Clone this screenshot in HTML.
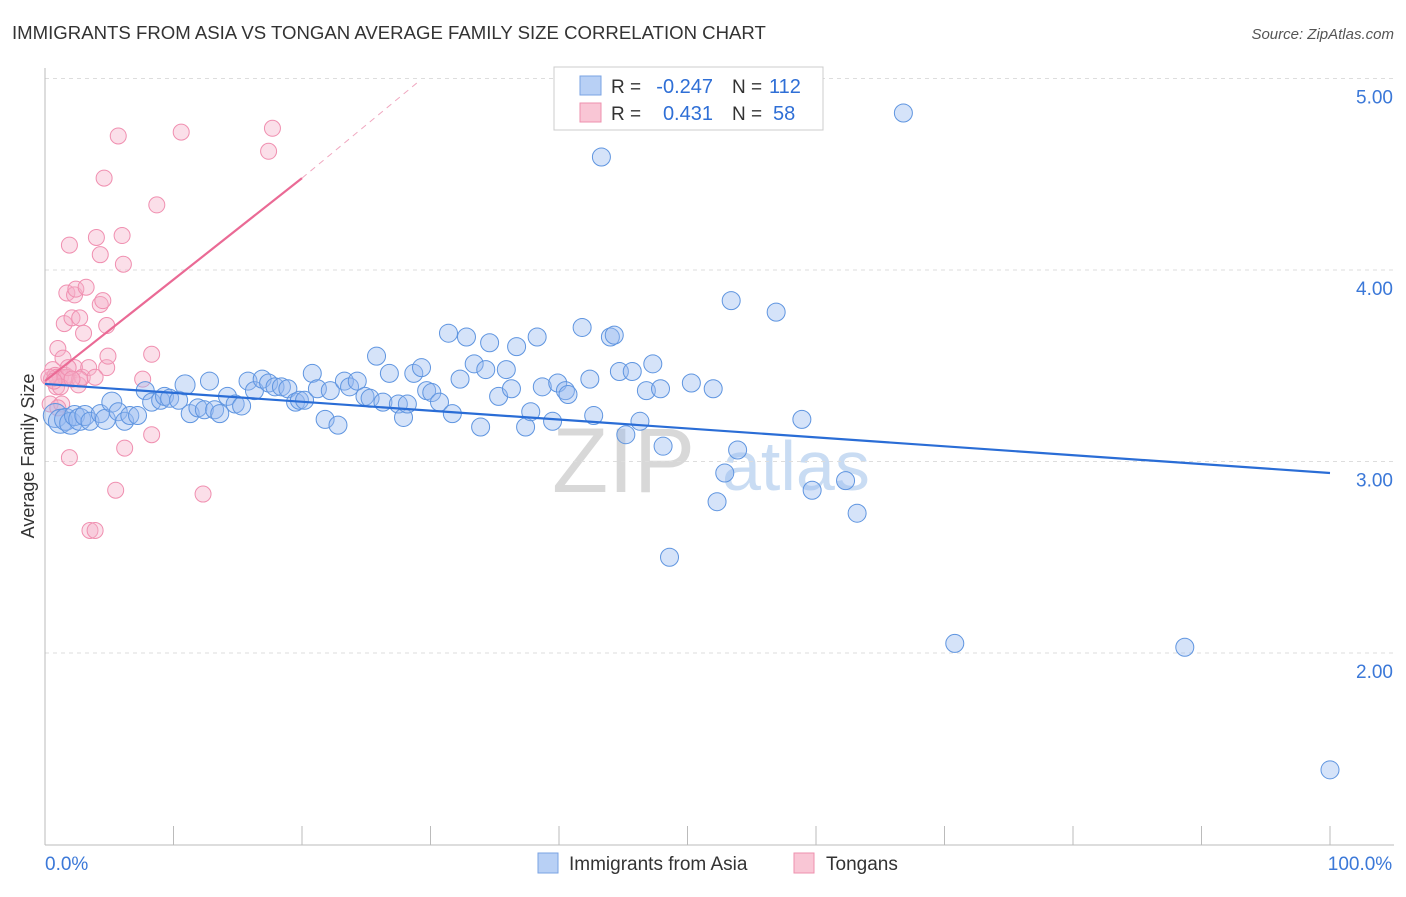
<!DOCTYPE html>
<html><head><meta charset="utf-8"><style>
body{margin:0;background:#fff;font-family:"Liberation Sans",sans-serif;}
svg text{font-family:"Liberation Sans",sans-serif;}
</style></head><body>
<svg id="chart" width="1406" height="892">
<text x="12" y="39" font-size="18.6" fill="#333">IMMIGRANTS FROM ASIA VS TONGAN AVERAGE FAMILY SIZE CORRELATION CHART</text>
<text x="1394" y="39" font-size="15" fill="#555" font-style="italic" text-anchor="end">Source: ZipAtlas.com</text>
<text x="552" y="492" font-size="92" fill="#d8d8d8" font-family="Liberation Serif">ZIP</text>
<text x="722" y="490" font-size="70" fill="#c9dcf3">atlas</text>
<g id="grid"></g>
<g id="axes"></g>
<g id="pts"></g>
<g id="trend"></g>
<text x="34" y="456" font-size="18" fill="#333" text-anchor="middle" transform="rotate(-90 34 456)">Average Family Size</text>
<g>
<rect x="554" y="67" width="269" height="63" fill="#fff" stroke="#ccc"/>
<rect x="580" y="76" width="21" height="19" fill="#b8d0f5" stroke="#7aa3e3"/>
<rect x="580" y="103" width="21" height="19" fill="#f9c6d5" stroke="#ee90ae"/>
<text x="611" y="93" font-size="19" fill="#333">R =</text>
<text x="713" y="93" font-size="20" fill="#2f6fd6" text-anchor="end">-0.247</text>
<text x="732" y="93" font-size="19" fill="#333">N =</text>
<text x="769" y="93" font-size="20" fill="#2f6fd6">112</text>
<text x="611" y="120" font-size="19" fill="#333">R =</text>
<text x="713" y="120" font-size="20" fill="#2f6fd6" text-anchor="end">0.431</text>
<text x="732" y="120" font-size="19" fill="#333">N =</text>
<text x="773" y="120" font-size="20" fill="#2f6fd6">58</text>
</g>
<g>
<rect x="538" y="853" width="20" height="20" fill="#b8d0f5" stroke="#7aa3e3"/>
<text x="569" y="870" font-size="19" fill="#333">Immigrants from Asia</text>
<rect x="794" y="853" width="20" height="20" fill="#f9c6d5" stroke="#ee90ae"/>
<text x="826" y="870" font-size="19" fill="#333">Tongans</text>
</g>
</svg>
<script>
const yTicks=[5,4,3,2];
const yTickLabels=["5.00","4.00","3.00","2.00"];
const xTickLabels=["0.0%","100.0%"];
const asiaX=[0.8,1.2,1.6,2,2.3,2.7,3.1,3.5,4.3,4.7,5.2,5.7,6.2,6.6,7.2,7.8,8.3,9,9.3,9.7,10.4,10.9,11.3,11.9,12.4,12.8,13.2,13.6,14.2,14.8,15.3,15.8,16.3,16.9,17.4,17.9,18.4,18.9,19.5,19.8,20.2,20.8,21.2,21.8,22.2,22.8,23.3,23.7,24.3,24.9,25.3,25.8,26.3,26.8,27.5,27.9,28.2,28.7,29.3,29.7,30.1,30.7,31.4,31.7,32.3,32.8,33.4,33.9,34.3,34.6,35.3,35.9,36.3,36.7,37.4,37.8,38.3,38.7,39.5,39.9,40.5,40.7,41.8,42.4,42.7,43.3,44,44.3,44.7,45.2,45.7,46.3,46.8,47.3,47.9,48.1,48.6,50.3,52,52.3,52.9,53.4,53.9,56.9,58.9,59.7,62.3,63.2,66.8,70.8,88.7,100];
const asiaY=[3.24,3.21,3.22,3.2,3.24,3.22,3.24,3.21,3.25,3.22,3.31,3.26,3.21,3.24,3.24,3.37,3.31,3.32,3.34,3.33,3.32,3.4,3.25,3.28,3.27,3.42,3.27,3.25,3.34,3.3,3.29,3.42,3.37,3.43,3.41,3.39,3.39,3.38,3.31,3.32,3.32,3.46,3.38,3.22,3.37,3.19,3.42,3.39,3.42,3.34,3.33,3.55,3.31,3.46,3.3,3.23,3.3,3.46,3.49,3.37,3.36,3.31,3.67,3.25,3.43,3.65,3.51,3.18,3.48,3.62,3.34,3.48,3.38,3.6,3.18,3.26,3.65,3.39,3.21,3.41,3.37,3.35,3.7,3.43,3.24,4.59,3.65,3.66,3.47,3.14,3.47,3.21,3.37,3.51,3.38,3.08,2.5,3.41,3.38,2.79,2.94,3.84,3.06,3.78,3.22,2.85,2.9,2.73,4.82,2.05,2.03,1.39];
const asiaR=[12,12,11,11,10,11,10,9,9,10,10,9,9,9,9,9,9,9,9,9,9,10];
const tonX=[0.4,0.5,0.6,0.8,0.9,1,1.2,1.3,1.4,1.5,1.6,1.7,1.8,1.9,1.9,2.1,2.3,2.3,2.4,2.6,2.7,2.9,3,3.2,3.4,3.5,3.9,4,4.3,4.3,4.5,4.6,4.8,4.8,4.9,5.5,5.7,6,6.1,6.2,7.6,8.3,8.3,8.7,10.6,12.3,17.4,17.7,0.9,1.0,1.6,1.8,2.7,1.2,3.9,2.1,0.3,0.7];
const tonY=[3.3,3.43,3.48,3.45,3.39,3.59,3.44,3.3,3.54,3.72,3.45,3.88,3.44,3.02,4.13,3.75,3.87,3.49,3.9,3.4,3.75,3.44,3.67,3.91,3.49,2.64,2.64,4.17,4.08,3.82,3.84,4.48,3.49,3.71,3.55,2.85,4.7,4.18,4.03,3.07,3.43,3.56,3.14,4.34,4.72,2.83,4.62,4.74,3.44,3.28,3.44,3.49,3.43,3.39,3.44,3.43,3.44,3.42];
const X0=45,X1=1330;
const sx=p=>X0+(X1-X0)*p/100;
const sy=v=>270-(v-4)*191.5;
const NS="http://www.w3.org/2000/svg";
function mk(tag,attrs,parent){const e=document.createElementNS(NS,tag);for(const k in attrs)e.setAttribute(k,attrs[k]);parent.appendChild(e);return e;}
const grid=document.getElementById('grid'),axes=document.getElementById('axes');
yTicks.forEach((v,i)=>{
 const l=mk('line',{x1:45,x2:1394,y1:sy(v),y2:sy(v),stroke:'#ddd','stroke-dasharray':'4,4'},grid);
 
 
 const t=mk('text',{x:1393,y:sy(v)+25,'font-size':19,fill:'#3b78d8','text-anchor':'end'},axes);
 t.textContent=yTickLabels[i];
 
 
});
const ya=mk('line',{x1:45,x2:45,y1:68,y2:845,stroke:'#bbb'},axes);


const xa=mk('line',{x1:45,x2:1394,y1:845,y2:845,stroke:'#bbb'},axes);


for(let i=0;i<=10;i++){const tk=mk('line',{x1:sx(i*10),x2:sx(i*10),y1:826,y2:845,stroke:'#bbb'},axes);
 
 }
[[0,'start',45],[100,'middle',1360]].forEach((d,i)=>{const t=mk('text',{x:d[2],y:870,'font-size':19,fill:'#3b78d8','text-anchor':d[1]},axes);t.textContent=xTickLabels[i];
 
 });
const pts=document.getElementById('pts');
tonX.forEach((x,i)=>{const c=mk('circle',{cx:sx(x),cy:sy(tonY[i]),r:8,fill:'rgba(246,175,200,0.4)',stroke:'#f08fb0','stroke-width':1},pts);
 
 });
asiaX.forEach((x,i)=>{const c=mk('circle',{cx:sx(x),cy:sy(asiaY[i]),r:asiaR[i]||9,fill:'rgba(150,185,240,0.4)',stroke:'#5f95e0','stroke-width':1},pts);
 
 });
const tr=document.getElementById('trend');
const tb=mk('line',{x1:sx(0),y1:sy(3.405),x2:sx(100),y2:sy(2.94),stroke:'#2a6dd6','stroke-width':2.2},tr);


const tp=mk('line',{x1:sx(0),y1:sy(3.42),x2:sx(20),y2:sy(4.48),stroke:'#ea6a95','stroke-width':2.2},tr);


const td=mk('line',{x1:sx(20),y1:sy(4.48),x2:sx(29),y2:sy(4.98),stroke:'#f0a8c0','stroke-width':1,'stroke-dasharray':'6,5'},tr);


</script>
</body></html>
